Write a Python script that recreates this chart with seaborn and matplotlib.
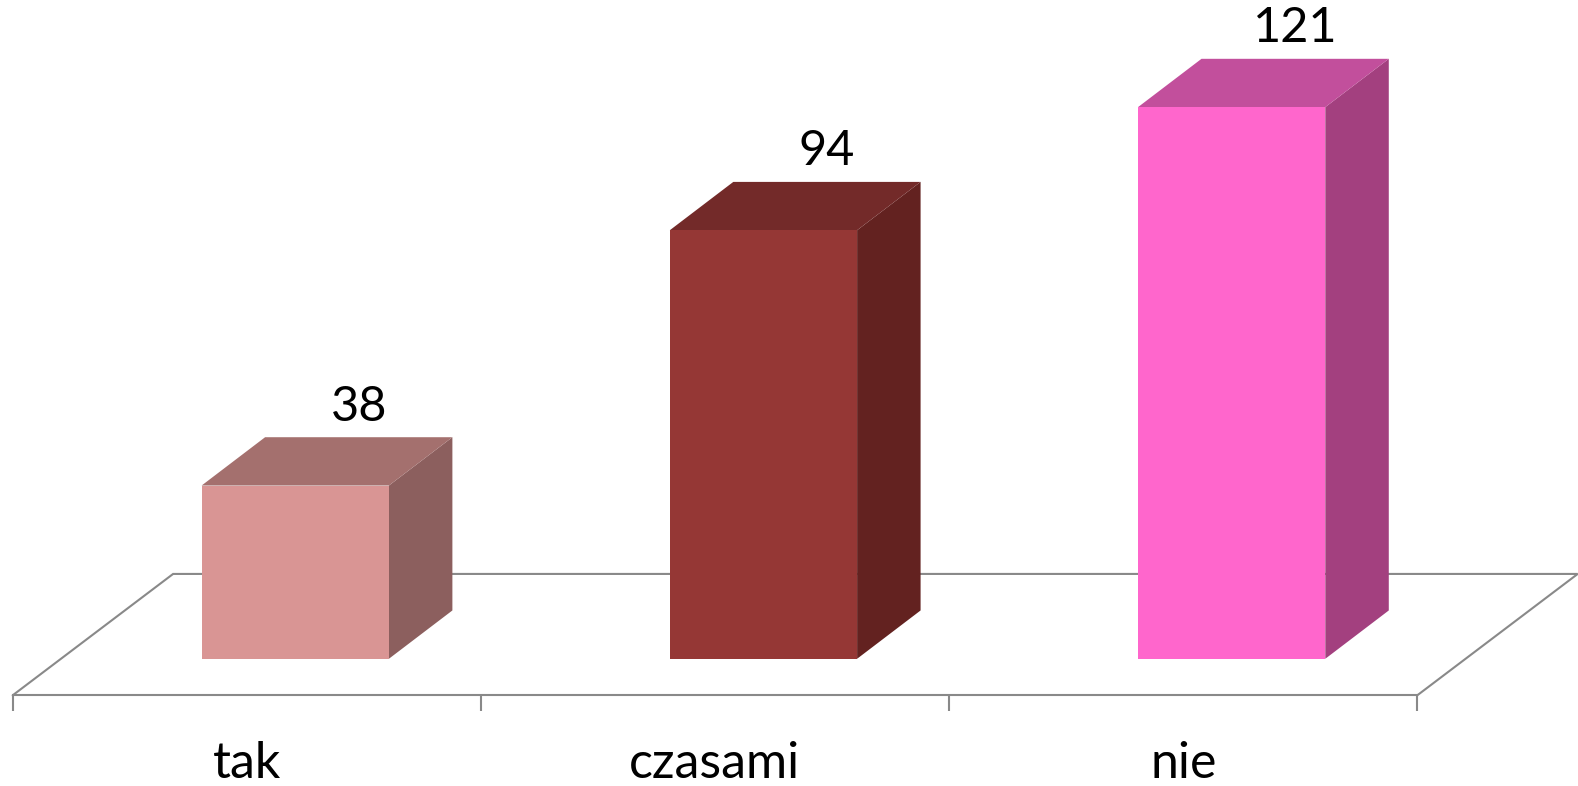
import matplotlib
matplotlib.use("Agg")
import matplotlib.pyplot as plt
from matplotlib.patches import Polygon
import seaborn as sns
import pandas as pd

# Survey answers and counts
categories = ["tak", "czasami", "nie"]
counts = [38, 94, 121]

# Face colours per bar: front, top, side
front_colors = ["#D99594", "#953735", "#FF66CC"]
top_colors = ["#A4706E", "#732A29", "#C24F9C"]
side_colors = ["#8C5F5E", "#632220", "#A3407F"]

GRID = "#898989"

# Oblique projection of the depth axis (x in category units, y in value units)
FLOOR_DX, FLOOR_DY = 0.3426, 26.62
BAR_DX, BAR_DY = 0.1356, 10.60
BAR_WIDTH = 0.4
# bars stand in the middle of the floor depth
MID_DX = (FLOOR_DX - BAR_DX) / 2
MID_DY = (FLOOR_DY - BAR_DY) / 2

sns.set_theme(style="white")
plt.rcParams["font.family"] = ["Lato", "DejaVu Sans"]

W, H = 1578, 786
fig = plt.figure(figsize=(W / 100, H / 100), dpi=100)
ax = fig.add_axes([12.7 / W, 90.7 / H, 1404.6 / W, 695.3 / H])

df = pd.DataFrame({"odp": categories, "n": counts})
sns.barplot(data=df, x="odp", y="n", hue="odp", palette=front_colors,
            saturation=1, width=BAR_WIDTH, legend=False, ax=ax,
            edgecolor="none", linewidth=0)

ax.set_xlim(-0.5, len(categories) - 0.5)
ax.set_ylim(-MID_DY, 144.5)

# Floor (back and side edges of the plot base), kept behind the bars
x0f, x1f = -0.5, len(categories) - 0.5
yf = -MID_DY
ax.plot([x0f, x0f + FLOOR_DX, x1f + FLOOR_DX, x1f],
        [yf, yf + FLOOR_DY, yf + FLOOR_DY, yf],
        color=GRID, lw=1.5, clip_on=False, zorder=1, solid_joinstyle="miter")

# Turn flat bars into prisms: shift to mid-depth and add side/top faces
bars = list(ax.patches)
for i, p in enumerate(bars):
    p.set_zorder(3)
    p.set_x(p.get_x() + MID_DX)
    x0 = p.get_x()
    x1 = x0 + p.get_width()
    v = p.get_height()
    side = Polygon([(x1, 0), (x1 + BAR_DX, BAR_DY), (x1 + BAR_DX, v + BAR_DY), (x1, v)],
                   closed=True, facecolor=side_colors[i], edgecolor="none",
                   zorder=2.5, clip_on=False)
    top = Polygon([(x0, v), (x0 + BAR_DX, v + BAR_DY), (x1 + BAR_DX, v + BAR_DY), (x1, v)],
                  closed=True, facecolor=top_colors[i], edgecolor="none",
                  zorder=2.5, clip_on=False)
    ax.add_patch(side)
    ax.add_patch(top)
    ax.annotate(f"{int(v)}", xy=((x0 + x1) / 2 + BAR_DX, v + BAR_DY),
                xytext=(0, 12), textcoords="offset points",
                ha="center", va="baseline", fontsize=35, color="black",
                annotation_clip=False)

# Axes frame: only the front floor edge with category separators
for s in ["left", "right", "top"]:
    ax.spines[s].set_visible(False)
ax.spines["bottom"].set_color(GRID)
ax.spines["bottom"].set_linewidth(1.5)
ax.spines["bottom"].set_zorder(1)
ax.set_yticks([])
ax.set_xticks(range(len(categories)))
ax.set_xticklabels([])
ax.tick_params(axis="x", which="major", length=0)
ax.set_xticks([i - 0.5 for i in range(len(categories) + 1)], minor=True)
ax.tick_params(axis="x", which="minor", bottom=True, length=11.8, width=1.5,
               color=GRID, direction="out")
ax.set_xlabel("")
ax.set_ylabel("")

for i, name in enumerate(categories):
    ax.annotate(name, xy=(i, 8), xycoords=("data", "figure pixels"),
                ha="center", va="baseline", fontsize=36, color="black",
                annotation_clip=False)

fig.savefig("out.png", dpi=100)
